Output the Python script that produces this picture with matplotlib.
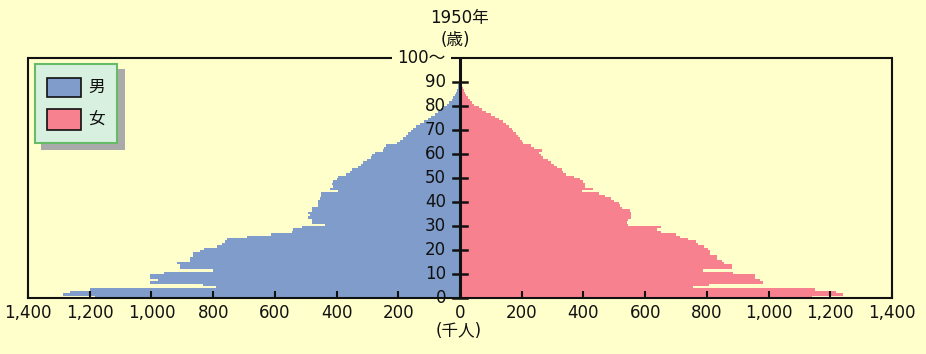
import matplotlib
matplotlib.use("Agg")
import matplotlib.pyplot as plt
from matplotlib.patches import Rectangle
import numpy as np

plt.rcParams['font.family'] = ['DejaVu Sans', 'Noto Sans CJK JP']

# ---- data (thousands of people, ages 0..99) ----
ages = list(range(0, 100))
male = [1183, 1286, 1265, 1200, 790, 832, 1005, 980, 1005, 1005,
        960, 800, 907, 907, 918, 875, 875, 864, 864, 842,
        830, 788, 772, 760, 756, 690, 611, 546, 540, 513,
        438, 481, 481, 492, 486, 492, 481, 481, 459, 459,
        459, 454, 449, 449, 395, 420, 410, 416, 411, 400,
        395, 370, 355, 350, 330, 320, 315, 300, 290, 285,
        275, 250, 245, 240, 205, 195, 185, 175, 168, 160,
        152, 143, 130, 118, 105, 95, 82, 72, 62, 52,
        42, 35, 27, 22, 17, 13, 10, 8, 5, 3,
        2, 1, 1, 0.5, 0.3, 0.2, 0.1, 0.1, 0, 0]
female = [1140, 1240, 1220, 1150, 755, 808, 983, 972, 957, 957,
          885, 788, 880, 880, 855, 850, 832, 832, 810, 810,
          805, 790, 770, 765, 740, 713, 700, 650, 640, 650,
          545, 540, 545, 555, 555, 555, 550, 525, 520, 515,
          500, 490, 470, 450, 395, 430, 405, 405, 400, 390,
          370, 345, 335, 330, 315, 305, 295, 285, 270, 262,
          255, 265, 240, 230, 205, 200, 195, 188, 180, 172,
          168, 160, 150, 140, 128, 115, 100, 85, 72, 60,
          45, 38, 32, 26, 20, 16, 12, 9, 6, 4,
          3, 2, 1, 0.5, 0.3, 0.2, 0.1, 0.1, 0, 0]
x_ticks = list(range(-1400, 1401, 200))
age_ticks = list(range(0, 100, 10))
title = "1950年"
legend_labels = ["男", "女"]

BG = "#FFFFCC"
BLUE = "#7F9CCB"
PINK = "#F8818F"
INK = "#111111"

W, H = 926, 354
fig = plt.figure(figsize=(W / 100, H / 100), dpi=100, facecolor=BG)

L, R, T, B = 28, 892, 58, 298
ax = fig.add_axes([L / W, 1 - B / H, (R - L) / W, (B - T) / H], facecolor=BG)
ax.set_xlim(-1400, 1400)
ax.set_ylim(0, 100)

ax.barh(ages, [-m for m in male], height=1, align='edge', color=BLUE, linewidth=0)
ax.barh(ages, female, height=1, align='edge', color=PINK, linewidth=0)

# frame
for s in ['left', 'right', 'bottom']:
    ax.spines[s].set_linewidth(1.5)
    ax.spines[s].set_color(INK)
ax.spines['top'].set_visible(False)
# top line with gap for "100〜"
ax.plot([-1400, -220], [100, 100], color=INK, lw=1.5, clip_on=False, solid_capstyle='butt')
ax.plot([-30, 1400], [100, 100], color=INK, lw=1.5, clip_on=False, solid_capstyle='butt')
ax.text(-125, 100, "100〜", ha='center', va='center', fontsize=12, color=INK)

# central age axis
ax.plot([0, 0], [0, 100], color=INK, lw=2.2, clip_on=False, solid_capstyle='butt')
for a in age_ticks:
    ax.plot([-22, 22], [a, a], color=INK, lw=1.8, clip_on=False)
    ax.text(-45, a, str(a), ha='right', va='center', fontsize=12, color=INK)

ax.set_yticks([])
ax.set_xticks(x_ticks)
ax.set_xticklabels([f"{abs(v):,}" for v in x_ticks], fontsize=12, color=INK)
ax.tick_params(axis='x', direction='in', length=5, width=1.5, pad=4, colors=INK)

# titles
fig.text(460 / W, 1 - 18 / H, title, ha='center', va='center', fontsize=12, color=INK)
fig.text(455 / W, 1 - 40 / H, "(歳)", ha='center', va='center', fontsize=12, color=INK)
fig.text(459 / W, 1 - 331 / H, "(千人)", ha='center', va='center', fontsize=12, color=INK)

# legend (drawn manually)
def rect(x0, y0, x1, y1, **kw):
    fig.add_artist(Rectangle((x0 / W, 1 - y1 / H), (x1 - x0) / W, (y1 - y0) / H,
                             transform=fig.transFigure, **kw))

rect(41, 69, 125, 150, facecolor='#AAAAAA', edgecolor='none')
rect(35, 64, 117, 143, facecolor='#D8F0E0', edgecolor='#66BB66', linewidth=1.5)
rect(47, 78, 81, 97, facecolor=BLUE, edgecolor=INK, linewidth=1.2)
rect(47, 109, 81, 130, facecolor=PINK, edgecolor=INK, linewidth=1.2)
fig.text(88 / W, 1 - 87 / H, legend_labels[0], ha='left', va='center', fontsize=12, color=INK)
fig.text(88 / W, 1 - 120 / H, legend_labels[1], ha='left', va='center', fontsize=12, color=INK)

fig.savefig("out.png", dpi=100, facecolor=BG)
